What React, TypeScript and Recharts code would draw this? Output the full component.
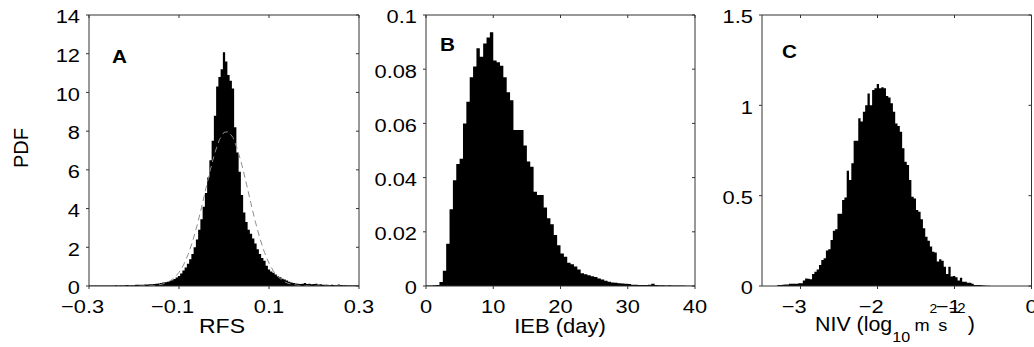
import React from 'react';
import { ComposedChart, Area, Line, XAxis, YAxis } from 'recharts';

const FONT = '"Liberation Sans", Arial, Helvetica, sans-serif';
const INK = '#333333';
const SX = 1.15;

// Panel A: RFS histogram, bin centres start at -0.3, bins of 0.005
const rfsFirstCentre = -0.3;
const rfsBin = 0.005;
const rfsPdf = [
  0.02, 0.02, 0.02, 0.02, 0.03, 0.02, 0.03, 0.03, 0.02, 0.03, 0.03, 0.03, 0.04, 0.03, 0.04, 0.04, 0.04, 0.05, 0.04, 0.05, 0.05, 0.06,
  0.06, 0.07, 0.07, 0.08, 0.08, 0.09, 0.09, 0.1, 0.11, 0.13, 0.16, 0.18, 0.2, 0.22, 0.26, 0.3, 0.36, 0.44, 0.52,
  0.64, 0.8, 0.96, 1.15, 1.38, 1.65, 2.0, 2.4, 2.9, 3.45, 4.1, 4.8, 5.6, 6.5, 7.5, 8.8, 10.3, 10.8, 11.2,
  12.07,
  11.6, 10.9, 10.6, 10.2, 8.2, 6.9, 5.9, 4.7, 3.8, 3.3, 2.9, 2.7, 2.45, 2.2, 1.9, 1.65, 1.45, 1.3, 1.05,
  0.85, 0.75, 0.68, 0.6, 0.5, 0.45, 0.38, 0.33, 0.28, 0.22, 0.18, 0.15, 0.13, 0.12, 0.1, 0.12, 0.15, 0.1, 0.12,
  0.09, 0.1, 0.12, 0.08, 0.09, 0.07, 0.06, 0.07, 0.05, 0.06, 0.05, 0.05, 0.08, 0.05, 0.04, 0.05, 0.04, 0.04, 0.03, 0.04, 0.03, 0.03,
];
// dashed fit curve, every 0.01 from -0.3
const rfsFitStart = -0.3;
const rfsFitStep = 0.01;
const rfsFit = [
  0, 0, 0, 0, 0, 0, 0, 0, 0, 0,
  0, 0, 0.01, 0.01, 0.02, 0.04, 0.08, 0.15, 0.26, 0.43,
  0.7, 1.08, 1.61, 2.29, 3.11, 4.05, 5.06, 6.04, 6.91, 7.57,
  7.94, 7.97, 7.67, 7.06, 6.23, 5.26, 4.25, 3.29, 2.44, 1.73,
  1.18, 0.76, 0.48, 0.28, 0.16, 0.09, 0.05, 0.02, 0.01, 0.01,
  0, 0, 0, 0, 0, 0, 0, 0, 0, 0, 0,
];

// Panel B: IEB histogram, left edges from 0, bins of 0.5 day
const iebFirstEdge = 0;
const iebBin = 0.5;
const iebPdf = [
  0.0002, 0.0002, 0.0003, 0.0004, 0.0015, 0.0056, 0.0156, 0.0283, 0.039, 0.045,
  0.047, 0.06, 0.068, 0.077, 0.081, 0.0877, 0.0846, 0.0895, 0.0917, 0.0936,
  0.0832, 0.0826, 0.0813, 0.077, 0.0715, 0.0685, 0.0576, 0.0576, 0.0576, 0.0518,
  0.0459, 0.044, 0.0348, 0.0336, 0.0336, 0.029, 0.025, 0.0228, 0.0188, 0.015,
  0.012, 0.0108, 0.0086, 0.008, 0.0072, 0.0061, 0.0047, 0.0043, 0.004, 0.0036,
  0.0033, 0.0028, 0.0024, 0.0019, 0.0016, 0.0013, 0.0012, 0.001, 0.0009, 0.0008,
  0.0007, 0.0005, 0.0005, 0.0004, 0.0004, 0.0004, 0.0005, 0.0008, 0.0004, 0.0003,
  0.0003, 0.0002, 0.0003, 0.0002, 0.0002, 0.0002, 0.0002, 0.0001, 0.0001, 0.0001,
];

// Panel C: NIV histogram, left edges from -3.3, bins of 0.03
const nivFirstEdge = -3.3;
const nivBin = 0.03;
const nivPdf = [
  0.005, 0.006, 0.007, 0.008, 0.008, 0.012, 0.013, 0.013, 0.012, 0.015,
  0.015, 0.03, 0.042, 0.04, 0.037, 0.066, 0.079, 0.092, 0.116, 0.144,
  0.153, 0.196, 0.203, 0.255, 0.306, 0.314, 0.4, 0.4, 0.476, 0.49,
  0.638, 0.587, 0.679, 0.804, 0.804, 0.928, 0.91, 0.965, 1.0, 1.066,
  1.0, 1.085, 1.094, 1.118, 1.094, 1.1, 1.094, 1.052, 1.044, 1.011,
  0.965, 0.9, 0.886, 0.854, 0.762, 0.688, 0.67, 0.587, 0.494, 0.485,
  0.42, 0.411, 0.369, 0.319, 0.273, 0.25, 0.218, 0.19, 0.185, 0.135,
  0.148, 0.14, 0.107, 0.066, 0.107, 0.052, 0.055, 0.048, 0.03, 0.045,
  0.024, 0.024, 0.018, 0.018, 0.012, 0.006, 0.006, 0.005, 0.004, 0.003,
  0.002, 0.002,
];

const rfsXTicks = [-0.3, -0.1, 0.1, 0.3];
const rfsYTicks = [0, 2, 4, 6, 8, 10, 12, 14];
const iebXTicks = [0, 10, 20, 30, 40];
const iebYTicks = [0, 0.02, 0.04, 0.06, 0.08, 0.1];
const nivXTicks = [-3, -2, -1, 0];
const nivYTicks = [0, 0.5, 1, 1.5];

type Pt = { x: number; pdf?: number; fit?: number };

function steps(firstEdge: number, bin: number, values: number[]): Pt[] {
  const pts: Pt[] = values.map((v, i) => ({ x: firstEdge + i * bin, pdf: v }));
  pts.push({ x: firstEdge + values.length * bin, pdf: values[values.length - 1] });
  return pts;
}

const rfsData: Pt[] = [
  ...steps(rfsFirstCentre - rfsBin / 2, rfsBin, rfsPdf),
  ...rfsFit.map((v, i) => ({ x: rfsFitStart + i * rfsFitStep, fit: v })),
].sort((a, b) => a.x - b.x);
const iebData = steps(iebFirstEdge, iebBin, iebPdf);
const nivData = steps(nivFirstEdge, nivBin, nivPdf);

const fmt = (v: number) => String(v).replace('-', '\u2212');

// rough width of the unsigned part so the minus sign hangs to the left
function bodyWidth(s: string) {
  let w = 0;
  for (const ch of s) w += ch === '.' ? 0.278 : 0.556;
  return w * 19 * SX;
}

function XTick(props: any) {
  const { x, y, payload } = props;
  const s = String(payload.value);
  const neg = s.startsWith('-');
  const body = neg ? s.slice(1) : s;
  const half = bodyWidth(body) / 2;
  return (
    <g transform={`translate(${x + half},${y + 18}) scale(${SX},1)`}>
      <text x={0} y={0} textAnchor="end" fontSize={19} fontFamily={FONT} fill="#000">
        {fmt(payload.value)}
      </text>
    </g>
  );
}

function YTick(props: any) {
  const { x, y, payload } = props;
  return (
    <g transform={`translate(${x},${y + 8.3}) scale(${SX},1)`}>
      <text x={0} y={0} textAnchor="end" fontSize={19} fontFamily={FONT} fill="#000">
        {fmt(payload.value)}
      </text>
    </g>
  );
}

const NoTick = () => <g />;

interface PanelProps {
  left: number;
  width: number;
  yAxisWidth: number;
  plotWidth: number;
  data: Pt[];
  xDomain: [number, number];
  yDomain: [number, number];
  xTicks: number[];
  yTicks: number[];
  withFit?: boolean;
}

function Panel({ left, width, yAxisWidth, plotWidth, data, xDomain, yDomain, xTicks, yTicks, withFit }: PanelProps) {
  // top and right axes take 1px each (a 0-size axis is not drawn at all)
  const right = width - yAxisWidth - plotWidth - 1;
  return (
    <div style={{ position: 'absolute', left, top: 0 }}>
      <ComposedChart width={width} height={347} data={data} margin={{ top: 14, right, bottom: 0, left: 0 }}>
        <XAxis
          xAxisId="b"
          type="number"
          dataKey="x"
          domain={xDomain}
          ticks={xTicks}
          interval={0}
          allowDataOverflow
          height={61}
          tick={(p: any) => <XTick {...p} />}
          tickSize={3}
          tickMargin={6}
          tickLine={{ stroke: INK }}
          axisLine={{ stroke: INK }}
        />
        <XAxis
          xAxisId="t"
          orientation="top"
          type="number"
          dataKey="x"
          domain={xDomain}
          ticks={xTicks}
          interval={0}
          allowDataOverflow
          height={1}
          tick={NoTick}
          tickSize={-3}
          tickLine={{ stroke: INK }}
          axisLine={{ stroke: INK }}
        />
        <YAxis
          yAxisId="l"
          type="number"
          domain={yDomain}
          ticks={yTicks}
          interval={0}
          allowDataOverflow
          width={yAxisWidth}
          tick={(p: any) => <YTick {...p} />}
          tickSize={3}
          tickMargin={6}
          tickLine={{ stroke: INK }}
          axisLine={{ stroke: INK }}
        />
        <YAxis
          yAxisId="r"
          orientation="right"
          type="number"
          domain={yDomain}
          ticks={yTicks}
          interval={0}
          allowDataOverflow
          width={1}
          tick={NoTick}
          tickSize={-3}
          tickLine={{ stroke: INK }}
          axisLine={{ stroke: INK }}
        />
        {withFit && (
          <Line
            xAxisId="b"
            yAxisId="l"
            type="linear"
            dataKey="fit"
            stroke="#8c8c8c"
            strokeWidth={1}
            strokeDasharray="6 4"
            dot={false}
            connectNulls
            isAnimationActive={false}
          />
        )}
        <Area
          xAxisId="b"
          yAxisId="l"
          type="stepAfter"
          dataKey="pdf"
          connectNulls
          fill="#000000"
          fillOpacity={1}
          stroke="none"
          isAnimationActive={false}
        />
      </ComposedChart>
    </div>
  );
}

export default function App() {
  return (
    <div style={{ position: 'absolute', left: 0, top: 0, width: 1034, height: 347, background: '#fff', overflow: 'hidden' }}>
      <Panel left={0} width={380} yAxisWidth={89} plotWidth={270} data={rfsData}
        xDomain={[-0.3, 0.3]} yDomain={[0, 14]} xTicks={rfsXTicks} yTicks={rfsYTicks} withFit />
      <Panel left={340} width={380} yAxisWidth={86} plotWidth={269} data={iebData}
        xDomain={[0, 40]} yDomain={[0, 0.1]} xTicks={iebXTicks} yTicks={iebYTicks} />
      <Panel left={680} width={354} yAxisWidth={82} plotWidth={269.5} data={nivData}
        xDomain={[-3.5, 0]} yDomain={[0, 1.5]} xTicks={nivXTicks} yTicks={nivYTicks} />

      <svg width={1034} height={347} style={{ position: 'absolute', left: 0, top: 0, pointerEvents: 'none' }}>
        <g fontFamily={FONT} fill="#000">
          <text transform="translate(28,148) rotate(-90)" textAnchor="middle" fontSize={20}>PDF</text>
          <g transform={`translate(222,333) scale(${SX},1)`}>
            <text textAnchor="middle" fontSize={20}>RFS</text>
          </g>
          <g transform="translate(560,333) scale(1.1,1)">
            <text textAnchor="middle" fontSize={20}>IEB (day)</text>
          </g>
          <g transform="translate(815,331) scale(1.07,1)">
            <text x={0} y={0} textAnchor="start" fontSize={20}>
              <tspan>NIV (log</tspan>
              <tspan dy={11} fontSize={15}>10</tspan>
              <tspan dy={-11} dx={4} fontSize={17}>m</tspan>
              <tspan dy={-18} fontSize={13}>2</tspan>
              <tspan dy={18} dx={1} fontSize={17}>s</tspan>
              <tspan dy={-18} dx={1} fontSize={14}>{'\u2212'}2</tspan>
              <tspan dy={18} dx={2}>)</tspan>
            </text>
          </g>
          <g fontWeight="bold" fontSize={18.5}>
            <text transform="translate(112,63) scale(1.12,1)">A</text>
            <text transform="translate(440,51) scale(1.12,1)">B</text>
            <text transform="translate(782,58) scale(1.12,1)">C</text>
          </g>
        </g>
      </svg>
    </div>
  );
}
